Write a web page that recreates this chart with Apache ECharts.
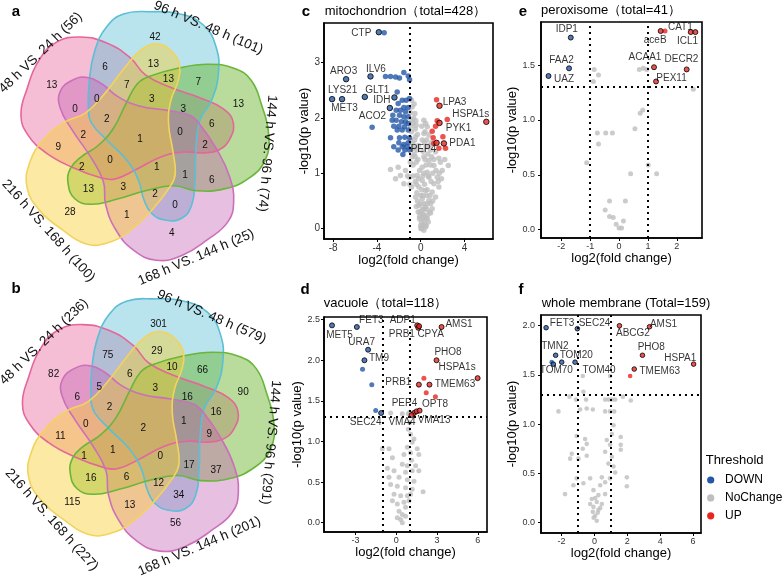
<!DOCTYPE html>
<html><head><meta charset="utf-8">
<script src="https://cdn.jsdelivr.net/npm/echarts@6/dist/echarts.min.js"></script>
<style>html,body{margin:0;padding:0;background:#fff}#chart{width:784px;height:578px}</style>
</head><body><div id="chart"></div>
<script>
// ================= DATA =================
// Venn a / b : set names and region counts (same region order for both)
const vennSetsA = ['48 h VS. 24 h (56)', '96 h VS. 48 h (101)', '144 h VS. 96 h (74)', '168 h VS. 144 h (25)', '216 h VS. 168 h (100)'];
const vennSetsB = ['48 h VS. 24 h (236)', '96 h VS. 48 h (579)', '144 h VS. 96 h (291)', '168 h VS. 144 h (201)', '216 h VS. 168 h (227)'];
const vennCountsA = [42,6,13,7,13,7,13,13,0,0,2,3,3,6,0,2,1,2,9,0,1,1,6,2,13,3,2,0,28,1,4];
const vennCountsB = [301,75,29,6,10,66,90,82,6,5,2,3,16,16,1,9,2,0,11,1,0,17,37,1,16,6,12,34,115,13,56];

// Volcano c : mitochondrion
const cTitle = 'mitochondrion（total=428）';
const cXTicks = [-8, -4, 0, 4];
const cYTicks = [0, 1, 2, 3];
const cGrey = [[-0.84,2.32],[-0.78,2.20],[-0.53,2.08],[-0.78,1.96],[-0.41,1.87],[-0.84,1.75],[-0.47,1.66],[-0.72,1.54],[-0.32,1.42],[-0.78,1.30],[-0.41,1.20],
 [0.29,1.96],[0.60,1.84],[0.29,1.72],[0.75,1.69],[0.14,1.60],[0.50,1.48],[0.90,1.42],[1.36,1.39],[0.29,1.30],[0.75,1.23],[1.66,1.27],[2.52,1.14],[1.21,1.14],[1.97,1.05],[1.51,0.93],[0.60,1.02],[0.14,1.11],
 [-2.76,1.07],[-2.06,1.11],[-1.39,1.05],[-1.85,0.96],[-1.02,0.93],[-1.54,0.81],[-0.84,0.75],[-2.30,0.90],
 [-0.32,0.96],[0.14,0.87],[0.75,0.93],[1.21,0.81],[-0.17,0.75],[0.44,0.69],[1.05,0.66],[1.66,0.75],[-0.47,0.57],[0.14,0.54],[0.75,0.51],[1.36,0.57],[-0.17,0.42],[0.44,0.39],[1.05,0.36],
 [-0.23,0.30],[0.14,0.27],[0.60,0.24],[0.90,0.28],[-0.11,0.18],[0.29,0.15],[0.69,0.12],[0.14,0.06],[0.44,0.03],[0.02,0.00],[0.29,-0.03],
 [-0.60,2.25],[-0.70,1.90],[-0.55,1.60],[-0.60,1.35],[0.40,1.75],[0.20,1.40],[1.00,1.55],[0.50,1.15],[1.10,1.00],[-0.10,1.05],[0.00,0.60],[0.60,0.70],[-0.35,0.65],[0.30,0.45],[0.90,0.45],[-0.05,0.30],[0.45,0.20],[0.05,0.12],[0.30,0.35],[0.70,0.95],[-0.50,0.85],[1.90,0.90],[2.20,1.25],[1.80,1.20],
 [-0.95,2.10],[-0.65,2.00],[-0.90,1.85],[-0.50,1.80],[-0.95,1.60],[-0.65,1.45],[-0.90,1.45],[-0.50,1.30],[-0.95,1.20],[-0.70,1.15],[-0.25,1.25],[-0.20,1.50],[-0.30,1.70],[-0.45,1.95],
 [0.10,1.85],[0.45,1.90],[0.55,1.60],[0.35,1.55],[0.80,1.50],[0.65,1.35],[1.00,1.30],[1.20,1.25],[0.40,1.25],[0.90,1.15],[1.40,1.05],[1.70,1.00],[0.30,1.00],[0.95,0.85],[1.60,0.85],[0.20,0.95],
 [-0.40,0.80],[-0.70,0.95],[-1.20,0.95],[-1.00,0.80],[-0.20,0.90],[0.10,0.70],[0.35,0.80],[0.55,0.60],[0.85,0.60],[1.10,0.50],[-0.30,0.50],[0.00,0.45],[0.20,0.60],[0.60,0.45],[0.80,0.30],[-0.40,0.40],[0.15,0.35],[0.55,0.35],[-0.10,0.22],[0.20,0.20],[0.60,0.18],[0.35,0.08],[0.00,0.05],[0.25,0.25],[0.50,0.05],[0.10,0.00]];
const cDown = [[-3.34,3.54],[-3.22,2.75],[-2.76,2.75],[-2.30,2.74],[-1.94,2.72],[-1.54,2.82],[-1.02,2.69],[-1.14,2.76],[-2.15,2.47],[-1.69,2.32],[-1.33,2.32],[-1.02,2.35],[-2.06,2.26],[-1.54,2.19],[-1.14,2.19],[-2.24,2.14],[-1.85,2.14],[-1.39,2.11],[-2.55,2.05],[-1.94,2.05],[-1.54,2.02],[-1.14,2.02],[-2.61,1.96],[-2.24,1.96],[-1.76,1.93],[-1.39,1.93],[-1.14,1.90],[-2.46,1.85],[-2.00,1.85],[-1.48,1.84],[-2.15,1.78],[-1.69,1.78],[-1.14,1.78],[-4.44,1.83],[-2.76,1.64],[-1.94,1.64],[-1.45,1.65],[-1.02,1.64],[-2.00,1.55],[-1.54,1.52],[-1.14,1.55],[-2.46,1.48],[-1.69,1.48],[-1.24,1.48],[-2.06,1.42],[-1.45,1.42],[-1.02,1.42],[-1.63,1.34]];
const cUp = [[1.45,2.33],[2.43,1.97],[1.51,1.95],[1.36,1.85],[1.05,1.76],[2.03,1.66],[1.14,1.64],[1.20,1.54],[1.66,1.45],[2.27,1.45]];
const cDownGenes = [['CTP',-3.83,3.55],['ARO3',-6.82,2.70],['ILV6',-4.59,2.75],['LYS21',-8.10,2.34],['MET3',-7.19,2.34],['GLT1',-5.11,2.38],['IDH',-2.40,2.37],['ACO2',-2.82,2.18]];
const cUpGenes = [['LPA3',1.72,2.22],['HSPA1s',6.00,1.93],['PYK1',1.72,1.91],['PDA1',2.12,1.54],['PEP4',1.45,1.55]];

// Volcano d : vacuole
const dTitle = 'vacuole（total=118）';
const dXTicks = [-3, 0, 3, 6];
const dYTicks = [0, 0.5, 1, 1.5, 2, 2.5];
const dGrey = [[-0.42,1.35],[0.44,1.34],[0.88,1.34],[0.98,1.36],[0.98,1.23],[0.88,1.15],[1.05,1.09],[1.30,1.03],[1.17,0.99],[-1.03,0.91],[-0.54,0.91],[0.81,0.93],[1.54,0.91],[1.05,0.86],[0.56,0.84],[1.66,0.84],[-0.29,0.80],[1.12,0.77],[0.44,0.72],[0.81,0.70],[1.42,0.70],[-0.66,0.67],[-0.17,0.64],[1.17,0.64],[1.66,0.64],[0.68,0.62],[-0.54,0.56],[0.20,0.56],[0.81,0.53],[1.30,0.51],[-0.42,0.47],[0.07,0.45],[0.68,0.43],[1.17,0.41],[-0.17,0.35],[0.32,0.33],[0.81,0.33],[1.05,0.35],[-0.29,0.27],[0.07,0.23],[0.56,0.25],[0.93,0.27],[0.68,0.19],[0.20,0.14],[0.44,0.10],[0.07,0.06],[0.32,0.04],[0.68,0.08],[0.44,0.00],[1.97,0.38]];
const dDown = [[-2.49,1.89],[-1.81,1.70],[-1.52,1.38]];
const dUp = [[2.03,1.78],[2.20,1.60],[2.88,1.55]];
const dDownGenes = [['MET5',-4.74,2.43],['FET3',-2.91,2.41],['URA7',-2.08,2.13],['TM9',-2.35,2.00],['SEC24',-1.12,1.35]];
const dUpGenes = [['ADP1',1.54,2.43],['PRB1',1.62,2.40],['CPYA',1.68,2.42],['AMS1',3.33,2.41],['PHO8',2.96,2.00],['HSPA1s',5.99,1.78],['PRB1',1.66,1.70],['TMEM63',2.44,1.70],['PEP4',1.30,1.35],['VMA13',1.49,1.37],['OPT8',1.71,1.38],['VMA4',1.12,1.325]];

// Volcano e : peroxisome
const eTitle = 'peroxisome（total=41）';
const eXTicks = [-2, -1, 0, 1, 2];
const eYTicks = [0, 0.5, 1, 1.5];
const eGrey = [[-0.86,1.46],[-0.71,1.41],[-0.89,1.35],[0.70,1.46],[0.84,1.47],[0.96,1.46],[2.57,1.28],[0.73,1.06],[0.82,1.09],[0.55,0.92],[-0.75,0.88],[-0.46,0.88],[-0.23,0.88],[-0.71,0.78],[-1.12,0.61],[1.01,0.59],[0.40,0.51],[1.30,0.51],[-0.33,0.26],[0.22,0.26],[-0.48,0.18],[-0.33,0.12],[-0.20,0.11],[-0.10,0.05],[0.00,0.015],[0.09,0.015],[0.15,0.08]];
const eDown = [];
const eUp = [[1.59,1.81]];
const eDownGenes = [['IDP1',-1.67,1.75],['FAA2',-1.73,1.47],['UAZ',-2.44,1.40]];
const eUpGenes = [['aceB',1.44,1.81],['CAT1',2.48,1.80],['ICL1',2.64,1.80],['ACAA1',1.21,1.48],['DECR2',2.34,1.46],['PEX11',1.28,1.35]];

// Volcano f : whole membrane
const fTitle = 'whole membrane (Total=159)';
const fXTicks = [-2, 0, 2, 4, 6];
const fYTicks = [0, 0.5, 1, 1.5, 2];
const fGrey = [[-0.71,1.49],[0.95,1.49],[-0.67,1.33],[-1.52,1.28],[-1.12,1.25],[-0.51,1.25],[0.65,1.25],[0.85,1.25],[1.05,1.25],[1.26,1.25],[1.73,1.28],[2.21,1.24],[-2.19,1.13],[-0.87,1.15],[-0.47,1.16],[-0.10,1.15],[0.65,1.13],[0.95,1.13],[1.20,1.13],[1.16,0.99],[1.06,0.90],[1.60,0.87],[1.60,0.79],[1.60,0.74],[-1.08,0.88],[-0.57,0.85],[-0.47,0.80],[-0.71,0.75],[-1.38,0.70],[-1.48,0.65],[-0.97,0.65],[-0.47,0.68],[0.75,0.84],[0.95,0.79],[0.65,0.72],[1.06,0.67],[0.85,0.60],[1.16,0.57],[1.26,0.51],[1.97,0.46],[1.97,0.37],[-1.28,0.38],[-1.79,0.29],[-1.08,0.45],[-0.67,0.40],[-0.26,0.45],[0.45,0.46],[0.65,0.41],[0.95,0.45],[0.35,0.38],[-0.06,0.33],[0.24,0.28],[0.65,0.29],[-0.16,0.24],[0.14,0.21],[-0.06,0.16],[0.24,0.13],[0.04,0.07],[0.14,0.02],[-0.10,0.11],[0.45,0.19],[-0.26,0.19],[0.05,0.25],[0.20,0.10],[-0.05,0.05],[0.35,0.15]];
const fDown = [[-2.60,1.63]];
const fUp = [[2.17,1.49]];
const fDownGenes = [['FET3',-2.94,1.98],['SEC24',-1.04,1.97],['TMN2',-2.36,1.70],['TOM20',-1.99,1.63],['TOM70',-2.50,1.61],['TOM40',-1.18,1.63]];
const fUpGenes = [['ABCG2',1.52,2.00],['AMS1',3.35,1.99],['PHO8',2.92,1.70],['HSPA1',6.03,1.61],['TMEM63',2.42,1.56]];

const legendItems = ['DOWN', 'NoChange', 'UP'];

// ================= LAYOUT / STYLE =================
const FONT = 'Liberation Sans, Arial, Helvetica, sans-serif';
const BLUE = '#2457A7', GREY = '#BEBEBE', RED = '#E8261F';

// label offsets (text centre relative to point centre, px), parallel to gene arrays
const cDownLab = [[-17,1.5],[-2,-7.5],[6,-6.5],[11,-8],[3,10],[13,-6.5],[-12,3.5],[-17,9]];
const cUpLab = [[15.5,-3.5],[-15,-7.5],[19.5,5.5],[19,0.7],[-12.6,6.7]];
const dDownLab = [[8,10],[15,-6],[-6,-7],[15,-2],[-15,10]];
const dUpLab = [[-14,-5],[-16,7.4],[12,9],[18,-2],[12,-8],[-20,-10],[-20,-2],[26,0],[-9,-9],[18,9],[16,-6],[-9,8]];
const eDownLab = [[-3.5,-7.5],[-7,-7.5],[16,3.5]];
const eUpLab = [[-5,9.4],[-9.9,-4.1],[-7.3,9.4],[-8.5,-9.4],[-4.7,-9.3],[16,-2.4]];
const fDownLab = [[16.5,-4],[17.7,-5],[-0.3,-8.6],[15,-6],[3.5,7],[24.5,8.3]];
const fUpLab = [[14,8.4],[14.5,-2.3],[9.3,-7.6],[-12.8,-5.7],[26,2.6]];

// Venn geometry: one petal template (blue set), rotated for the others
const petal = [[-53.3,-25],[-52.3,-55],[-46.7,-85],[-35,-108.3],[-18.3,-121],[8.3,-123.3],[38.3,-121],[61.7,-110],[74.3,-88.3],[76.7,-61.7],[70,-35],[58.3,-15],[54.3,11.7],[53.3,45],[50,70],[40,83.3],[23.3,85],[10,78.3],[2.3,65],[-3.3,45],[-15,25],[-35,5],[-50,-11.7]];
const petalAngles = [-72, 0, 72, 144, 216];
const vennFill = ['rgba(232,100,154,0.42)','rgba(88,188,211,0.42)','rgba(100,178,35,0.45)','rgba(196,96,178,0.40)','rgba(248,206,50,0.45)'];
const vennStroke = ['#E5669B','#5BBFD6','#69B63A','#CC6FBB','#F3D35E'];
const regionPos = [[14.3,-97.3],[-35.7,-67.3],[12.7,-70.7],[-14,-49],[27.7,-55.7],[57.7,-52.3],[97.7,-30.7],[-89,-49],[-65.7,-25.7],[-44,-35.7],[-34,-15.7],[11,-35],[42.7,-25.7],[71,-10.7],[39.3,-2.3],[64.3,11],[-0.7,4.3],[-57.3,1],[-82.3,12.7],[-30.7,26],[16,32.7],[44.3,41],[71,46],[-59,32.7],[-52.3,54.3],[-17.3,52.7],[14.3,59.3],[34.3,71],[-70.7,77.7],[-14,81],[31,98.7]];
const setLabelPos = [[-100,-81.7,44],[67.7,-106.7,-23],[126.5,19,-95],[55.5,123,23],[-92.3,96.3,-48]];

function rotPt(p, deg, s) {
  const a = deg * Math.PI / 180, c = Math.cos(a), sn = Math.sin(a);
  return [(p[0] * c - p[1] * sn) * s, (p[0] * sn + p[1] * c) * s];
}
function venn(cx, cy, s, counts, names, letter, lx, ly) {
  const els = [];
  petalAngles.forEach((ang, k) => {
    const pts = petal.map(p => { const r = rotPt(p, ang, s); return [cx + r[0], cy + r[1]]; });
    els.push({type:'polygon', silent:true, z:1, shape:{points:pts, smooth:0.45}, style:{fill:vennFill[k], stroke:null}});
    els.push({type:'polygon', silent:true, z:2, shape:{points:pts, smooth:0.45}, style:{fill:'none', stroke:vennStroke[k], lineWidth:1.6}});
  });
  counts.forEach((v, i) => {
    els.push({type:'text', silent:true, z:3, x: cx - 1 + regionPos[i][0] * s, y: cy - 0.5 + regionPos[i][1] * s,
      style:{text:String(v), fontSize:10, fontFamily:FONT, fill:'#111', align:'center', verticalAlign:'middle', textAlign:'center', textVerticalAlign:'middle'}});
  });
  names.forEach((n, k) => {
    const lp = setLabelPos[k];
    els.push({type:'text', silent:true, z:3, x: cx - 1 + lp[0], y: cy - 0.5 + lp[1], rotation: lp[2] * Math.PI / 180,
      style:{text:n, fontSize:13.5, fontFamily:FONT, fill:'#111', align:'center', verticalAlign:'middle', textAlign:'center', textVerticalAlign:'middle'}});
  });
  els.push({type:'text', silent:true, z:3, x:lx, y:ly, style:{text:letter, fontSize:15, fontWeight:'bold', fontFamily:FONT, fill:'#000', align:'center', verticalAlign:'middle', textAlign:'center', textVerticalAlign:'middle'}});
  return els;
}

function txt(t, x, y, size, opts) {
  return Object.assign({type:'text', silent:true, z:5, x:x, y:y,
    style:Object.assign({text:t, fontSize:size, fontFamily:FONT, fill:'#000', align:'center', verticalAlign:'middle', textAlign:'center', textVerticalAlign:'middle'}, opts || {})});
}

// grids
const grids = [
  {left:324, top:23, width:169, height:216},
  {left:324, top:317, width:163, height:215},
  {left:541, top:22, width:161, height:216},
  {left:541, top:315, width:160, height:218}
].map(g => Object.assign(g, {show:true, borderColor:'#000', borderWidth:1.6, backgroundColor:'transparent', containLabel:false}));

const panels = [
  {x:[-8.84,6.61], y:[-0.188,3.716], xt:cXTicks, yt:cYTicks, yfmt:v=>String(v), fs:10, yGap:9, xGap:11, ym:4,
   grey:cGrey, down:cDown, up:cUp, dg:cDownGenes, ug:cUpGenes, dl:cDownLab, ul:cUpLab, size:5.5, lines:[['x',-1]]},
  {x:[-5.33,6.68], y:[-0.115,2.533], xt:dXTicks, yt:dYTicks, yfmt:v=>v.toFixed(1), fs:9, yGap:15, xGap:12, ym:4,
   grey:dGrey, down:dDown, up:dUp, dg:dDownGenes, ug:dUpGenes, dl:dDownLab, ul:dUpLab, size:5, lines:[['x',-1],['x',1],['y',1.3]]},
  {x:[-2.70,2.87], y:[-0.076,1.892], xt:eXTicks, yt:eYTicks, yfmt:v=>v.toFixed(1), fs:9, yGap:21, xGap:14, ym:6,
   grey:eGrey, down:eDown, up:eUp, dg:eDownGenes, ug:eUpGenes, dl:eDownLab, ul:eUpLab, size:5, lines:[['x',-1],['x',1],['y',1.3]]},
  {x:[-3.25,6.48], y:[-0.105,2.109], xt:fXTicks, yt:fYTicks, yfmt:v=>v.toFixed(1), fs:9, yGap:22, xGap:11, ym:6,
   grey:fGrey, down:fDown, up:fUp, dg:fDownGenes, ug:fUpGenes, dl:fDownLab, ul:fUpLab, size:4.6, lines:[['x',-1],['x',1],['y',1.3]]}
];

const xAxes = [], yAxes = [], series = [];
panels.forEach((p, i) => {
  const axLine = {show:true, onZero:false, lineStyle:{color:'#000', width:1.6}};
  xAxes.push({gridIndex:i, type:'value', min:p.x[0], max:p.x[1], axisLine:axLine, splitLine:{show:false},
    axisTick:{show:true, length:3, lineStyle:{color:'#000'}, customValues:p.xt},
    axisLabel:{customValues:p.xt, fontSize:p.fs, color:'#333', margin:4, fontFamily:FONT, formatter:v=>String(v)},
    name:'log2(fold change)', nameLocation:'middle', nameGap:p.xGap, nameTextStyle:{fontSize:13, color:'#000', fontFamily:FONT}});
  yAxes.push({gridIndex:i, type:'value', min:p.y[0], max:p.y[1], axisLine:axLine, splitLine:{show:false},
    axisTick:{show:true, length:3, lineStyle:{color:'#000'}, customValues:p.yt},
    axisLabel:{customValues:p.yt, fontSize:p.fs, color:'#333', margin:p.ym, fontFamily:FONT, formatter:p.yfmt},
    name:'-log10(p value)', nameLocation:'middle', nameGap:p.yGap, nameTextStyle:{fontSize:13, color:'#000', fontFamily:FONT}});
  const s = p.size;
  const genes = (arr, lab) => arr.map((g, j) => ({
    value:[g[1], g[2]], name:g[0],
    itemStyle:{borderColor:'#000', borderWidth:1},
    label:{show:true, formatter:g[0], position:[s/2 + lab[j][0], s/2 + lab[j][1]], align:'center', verticalAlign:'middle',
      fontSize:10, color:'#000', fontFamily:FONT}
  }));
  const common = {type:'scatter', xAxisIndex:i, yAxisIndex:i, symbol:'circle', symbolSize:s, animation:false, emphasis:{disabled:true}, silent:true};
  series.push(Object.assign({}, common, {name:'NoChange', z:2, itemStyle:{color:GREY}, data:p.grey,
    markLine:{silent:true, symbol:'none', animation:false, label:{show:false}, z:4,
      lineStyle:{color:'#000', type:[2,4], width:2},
      data:p.lines.map(l => l[0] === 'x' ? {xAxis:l[1]} : {yAxis:l[1]})}}));
  series.push(Object.assign({}, common, {name:'DOWN', z:3, itemStyle:{color:BLUE}, data:p.down.concat(genes(p.dg, p.dl))}));
  series.push(Object.assign({}, common, {name:'UP', z:3, itemStyle:{color:RED}, data:p.up.concat(genes(p.ug, p.ul))}));
});

// graphics: Venn diagrams, titles, panel letters, legend
let graphics = [];
graphics = graphics.concat(venn(141.7, 135, 1.0, vennCountsA, vennSetsA, 'a', 16, 11.5));
graphics = graphics.concat(venn(145, 424, 1.015, vennCountsB, vennSetsB, 'b', 16, 289));
graphics.push(txt(cTitle, 405.5, 11.7, 13));
graphics.push(txt(dTitle, 385.5, 303.3, 13));
graphics.push(txt(eTitle, 611, 10.7, 13));
graphics.push(txt(fTitle, 626, 303.3, 13));
graphics.push(txt('c', 306, 12, 15, {fontWeight:'bold'}));
graphics.push(txt('e', 523, 12, 15, {fontWeight:'bold'}));
graphics.push(txt('d', 305, 290, 15, {fontWeight:'bold'}));
graphics.push(txt('f', 521, 290, 15, {fontWeight:'bold'}));
graphics.push(txt('Threshold', 705.7, 460.7, 13, {align:'left', textAlign:'left'}));
const legendColors = [BLUE, GREY, RED];
legendItems.forEach((n, i) => {
  const y = 480 + i * 17.9;
  graphics.push({type:'circle', silent:true, z:5, shape:{cx:710.7, cy:y, r:3.6}, style:{fill:legendColors[i]}});
  graphics.push(txt(n, 725, y, 12, {align:'left', textAlign:'left'}));
});

const chart = echarts.init(document.getElementById('chart'), null, {renderer:'canvas'});
chart.setOption({
  animation:false,
  backgroundColor:'#fff',
  textStyle:{fontFamily:FONT},
  grid:grids, xAxis:xAxes, yAxis:yAxes, series:series,
  graphic:{elements:graphics}
});
</script></body></html>
